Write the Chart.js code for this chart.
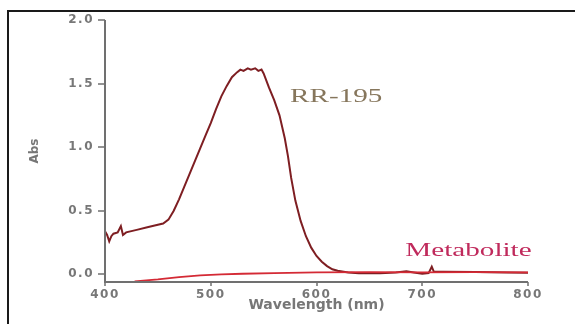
<!DOCTYPE html>
<html>
<head>
<meta charset="utf-8">
<script src="https://cdn.jsdelivr.net/npm/chart.js@4.4.1/dist/chart.umd.min.js"></script>
<style>
    body { margin: 0; background: #fff; }
    canvas { display: block; }
</style>
</head>
<body>
<canvas id="spectrum" width="575" height="324"></canvas>
<script>
// Spectrum data
const rrWave = [400, 402, 404, 406, 408, 412, 415, 417, 420, 430, 440, 450, 455, 460, 465, 470, 475, 480, 485, 490,
    495, 500, 505, 510, 515, 520, 525, 528, 531, 535, 538, 542, 545, 548, 550, 555, 560, 565, 570, 573,
    576, 580, 585, 590, 595, 600, 605, 610, 615, 620, 630, 640, 660, 675, 685, 692, 700, 706, 709, 711,
    720, 750, 780, 800];
const rrAbs = [0.34, 0.31, 0.26, 0.30, 0.32, 0.33, 0.38, 0.31, 0.33, 0.35, 0.37, 0.39, 0.40, 0.43, 0.50, 0.59, 0.69, 0.79, 0.89, 0.99,
    1.09, 1.19, 1.30, 1.40, 1.48, 1.55, 1.59, 1.61, 1.60, 1.62, 1.61, 1.62, 1.60, 1.61, 1.58, 1.47, 1.37, 1.25, 1.07, 0.93,
    0.76, 0.58, 0.42, 0.30, 0.21, 0.145, 0.10, 0.065, 0.04, 0.028, 0.015, 0.008, 0.008, 0.015, 0.025, 0.015, 0.005, 0.01, 0.06, 0.02,
    0.02, 0.018, 0.015, 0.013];

const metWave = [428, 450, 470, 490, 510, 530, 560, 600, 650, 700, 750, 800];
const metAbs = [-0.055, -0.04, -0.022, -0.008, 0.0, 0.005, 0.01, 0.015, 0.017, 0.015, 0.018, 0.016];

const xTicks = [400, 500, 600, 700, 800];
const yTicks = [0, 0.5, 1.0, 1.5, 2.0];
const yMin = -0.06;

const labels = [
    { text: 'RR-195', x: 575, y: 1.39, color: '#86765c' },
    { text: 'Metabolite', x: 684, y: 0.18, color: '#c02a5c' }
];

document.addEventListener('DOMContentLoaded', function() {
    const ctx = document.getElementById('spectrum');

    // axis lines + tick marks, outer frame and the text annotations
    const decorations = {
        id: 'decorations',
        afterDatasetsDraw(chart) {
            chart.ctx.letterSpacing = '1.5px';
        },
        afterDraw(chart) {
            const c = chart.ctx;
            const xs = chart.scales.x;
            const ys = chart.scales.y;
            c.letterSpacing = '0px';
            c.save();

            // axis corners taken from the scales themselves
            const left = Math.round(xs.getPixelForValue(xTicks[0]));
            const right = Math.round(xs.getPixelForValue(xTicks[xTicks.length - 1]));
            const top = Math.round(ys.getPixelForValue(yTicks[yTicks.length - 1]));
            const bottom = Math.round(ys.getPixelForValue(yMin));

            c.strokeStyle = '#707070';
            c.lineWidth = 2;
            c.beginPath();
            c.moveTo(left, top);
            c.lineTo(left, bottom);
            c.lineTo(right, bottom);
            c.stroke();
            c.lineWidth = 1.5;
            c.beginPath();
            yTicks.forEach(function(v) {
                const py = Math.round(ys.getPixelForValue(v));
                c.moveTo(left - 7, py);
                c.lineTo(left, py);
            });
            xTicks.forEach(function(v) {
                const px = Math.round(xs.getPixelForValue(v));
                c.moveTo(px, bottom);
                c.lineTo(px, bottom + 4);
            });
            c.stroke();

            c.strokeStyle = '#1a1a1a';
            c.lineWidth = 2;
            c.beginPath();
            c.moveTo(8, 324);
            c.lineTo(8, 11);
            c.lineTo(575, 11);
            c.stroke();

            c.font = '18px "Liberation Serif"';
            c.textBaseline = 'middle';
            c.textAlign = 'left';
            labels.forEach(function(l) {
                c.save();
                c.translate(xs.getPixelForValue(l.x), ys.getPixelForValue(l.y));
                c.scale(1.62, 1);
                c.fillStyle = l.color;
                c.fillText(l.text, 0, 0);
                c.restore();
            });
            c.restore();
        }
    };

    const tickFont = { family: 'DejaVu Sans', size: 12, weight: 'bold' };

    new Chart(ctx, {
        type: 'scatter',
        data: {
            datasets: [
                {
                    label: 'Metabolite',
                    data: metWave.map((x, i) => ({ x: x, y: metAbs[i] })),
                    showLine: true,
                    borderColor: '#d42a35',
                    borderWidth: 1.8,
                    pointRadius: 0,
                    tension: 0
                },
                {
                    label: 'RR-195',
                    data: rrWave.map((x, i) => ({ x: x, y: rrAbs[i] })),
                    showLine: true,
                    borderColor: '#7e1e22',
                    borderWidth: 2,
                    pointRadius: 0,
                    tension: 0
                }
            ]
        },
        options: {
            responsive: false,
            animation: false,
            layout: {
                padding: { left: 20, right: 47, top: 20, bottom: 0 }
            },
            plugins: {
                legend: { display: false },
                tooltip: { enabled: false }
            },
            scales: {
                x: {
                    type: 'linear',
                    min: 400,
                    max: 800,
                    afterBuildTicks: function(scale) {
                        scale.ticks = xTicks.map(v => ({ value: v }));
                    },
                    afterFit: function(scale) {
                        scale.height = 42;
                    },
                    ticks: {
                        z: 1,
                        color: '#777',
                        font: tickFont,
                        padding: 2,
                        maxRotation: 0
                    },
                    grid: {
                        display: false,
                        drawTicks: true,
                        tickLength: 4
                    },
                    border: { display: false },
                    title: {
                        display: true,
                        text: 'Wavelength (nm)',
                        color: '#777',
                        font: { family: 'DejaVu Sans', size: 14, weight: 'bold' },
                        padding: { top: 0, bottom: 10 }
                    }
                },
                y: {
                    min: yMin,
                    max: 2.0,
                    afterBuildTicks: function(scale) {
                        scale.ticks = yTicks.map(v => ({ value: v }));
                    },
                    afterFit: function(scale) {
                        scale.width = 85;
                    },
                    ticks: {
                        z: 1,
                        color: '#777',
                        font: tickFont,
                        padding: 4,
                        callback: v => v.toFixed(1)
                    },
                    grid: {
                        display: false,
                        drawTicks: true,
                        tickLength: 7
                    },
                    border: { display: false },
                    title: {
                        display: true,
                        text: 'Abs',
                        color: '#777',
                        font: { family: 'DejaVu Sans', size: 12, weight: 'bold' },
                        padding: { top: 8, bottom: 0 }
                    }
                }
            }
        },
        plugins: [decorations]
    });
});
</script>
</body>
</html>
